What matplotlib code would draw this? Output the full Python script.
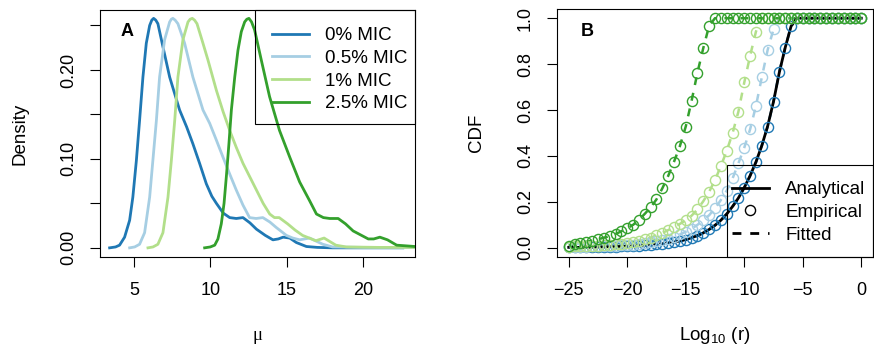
import numpy as np
import matplotlib
matplotlib.use('Agg')
import matplotlib.pyplot as plt
from matplotlib.lines import Line2D
from matplotlib.patches import Rectangle

plt.rcParams['font.family'] = ['Liberation Sans', 'DejaVu Sans']
plt.rcParams['font.size'] = 13
plt.rcParams['mathtext.default'] = 'regular'

# ---- data ----
labels = ['0% MIC', '0.5% MIC', '1% MIC', '2.5% MIC']
colors = ['#1F78B4', '#A6CEE3', '#B2DF8A', '#33A02C']

# panel A: density of mu
mu_0 = [3.41, 3.8, 4.06, 4.39, 4.72, 4.93, 5.16, 5.37, 5.59, 5.81, 6.03, 6.17, 6.29, 6.43, 6.57,
        6.9, 7.34, 7.99, 8.45, 8.86, 9.3, 9.74, 10.1, 10.4, 10.85, 11.27, 11.7, 12.14, 12.6,
        13.02, 13.6, 14.1, 14.45, 14.77, 15.2, 15.63, 16.29, 17.0, 18.0, 20.0, 22.6]
dens_0 = [0.0, 0.001, 0.003, 0.012, 0.031, 0.057, 0.098, 0.143, 0.192, 0.23, 0.25, 0.256, 0.258,
          0.256, 0.252, 0.226, 0.192, 0.155, 0.136, 0.117, 0.095, 0.072, 0.058, 0.05, 0.039,
          0.034, 0.033, 0.034, 0.028, 0.021, 0.014, 0.009, 0.01, 0.012, 0.011, 0.006, 0.0015,
          0.0005, 0.0, 0.0, 0.0]

mu_05 = [4.72, 5.05, 5.37, 5.7, 6.03, 6.24, 6.47, 6.68, 7.01, 7.34, 7.45, 7.55, 7.7, 7.88, 8.32,
         8.86, 9.52, 9.96, 10.4, 10.83, 11.27, 11.7, 12.14, 12.57, 13.0, 13.44, 13.9, 14.31, 14.98,
         15.4, 15.85, 16.5, 17.37, 18.0, 20.0, 23.4]
dens_05 = [0.0, 0.001, 0.004, 0.017, 0.057, 0.098, 0.143, 0.192, 0.234, 0.254, 0.257, 0.258,
           0.256, 0.252, 0.23, 0.192, 0.155, 0.14, 0.121, 0.102, 0.083, 0.065, 0.048, 0.034,
           0.033, 0.034, 0.029, 0.023, 0.014, 0.011, 0.009, 0.011, 0.004, 0.001, 0.0005, 0.0005]

mu_1 = [5.92, 6.25, 6.57, 6.9, 7.23, 7.45, 7.67, 7.88, 8.21, 8.54, 8.68, 8.82, 8.97, 9.13, 9.52,
        9.85, 10.4, 10.84, 11.27, 11.7, 12.14, 12.58, 13.02, 13.46, 13.89, 14.2, 14.51, 15.06,
        15.55, 16.04, 16.91, 17.45, 18.22, 18.9, 21.0, 23.4]
dens_1 = [0.0, 0.001, 0.004, 0.017, 0.057, 0.098, 0.143, 0.192, 0.234, 0.254, 0.257, 0.258,
          0.256, 0.252, 0.23, 0.211, 0.177, 0.153, 0.132, 0.113, 0.095, 0.08, 0.065, 0.05, 0.038,
          0.034, 0.034, 0.027, 0.02, 0.014, 0.008, 0.011, 0.003, 0.001, 0.0005, 0.0005]

mu_25 = [9.63, 10.0, 10.29, 10.5, 10.72, 10.9, 11.05, 11.22, 11.38, 11.6, 11.81, 12.03, 12.25,
         12.39, 12.53, 12.7, 12.9, 13.34, 13.88, 14.53, 15.2, 15.85, 16.5, 16.95, 17.4, 17.82,
         18.37, 18.85, 19.35, 20.34, 20.7, 21.1, 21.6, 22.2, 23.4]
dens_25 = [0.0, 0.001, 0.003, 0.01, 0.027, 0.05, 0.08, 0.117, 0.155, 0.192, 0.222, 0.243, 0.254,
           0.257, 0.258, 0.254, 0.245, 0.211, 0.17, 0.132, 0.102, 0.074, 0.053, 0.038, 0.034,
           0.033, 0.033, 0.027, 0.019, 0.010, 0.010, 0.012, 0.009, 0.003, 0.0015]

# panel B: CDF of log10(r), empirical points on a 0.5 grid from -25 to 0
log_r = np.arange(-25, 0.01, 0.5)
cdf_0 = [0.002, 0.002, 0.003, 0.003, 0.003, 0.004, 0.004, 0.005, 0.005, 0.006, 0.007, 0.008,
         0.009, 0.011, 0.013, 0.015, 0.018, 0.021, 0.025, 0.030, 0.036, 0.044, 0.053, 0.065,
         0.080, 0.098, 0.120, 0.148, 0.180, 0.215, 0.262, 0.314, 0.372, 0.445, 0.528, 0.637,
         0.767, 0.872, 0.965] + [1.0] * 12
cdf_05 = [0.004, 0.004, 0.005, 0.005, 0.006, 0.007, 0.008, 0.009, 0.010, 0.011, 0.012, 0.014,
          0.017, 0.020, 0.024, 0.028, 0.034, 0.040, 0.048, 0.058, 0.070, 0.083, 0.100, 0.120,
          0.142, 0.172, 0.208, 0.249, 0.302, 0.368, 0.436, 0.516, 0.618, 0.743, 0.862,
          0.952] + [1.0] * 15
cdf_1 = [0.005, 0.006, 0.007, 0.008, 0.009, 0.010, 0.011, 0.013, 0.015, 0.018, 0.022, 0.026,
         0.031, 0.037, 0.044, 0.055, 0.065, 0.077, 0.090, 0.104, 0.120, 0.140, 0.167, 0.203,
         0.244, 0.295, 0.356, 0.422, 0.499, 0.593, 0.720, 0.836, 0.942] + [1.0] * 18
cdf_25 = [0.010, 0.015, 0.020, 0.026, 0.031, 0.037, 0.044, 0.051, 0.060, 0.072, 0.085, 0.100,
          0.122, 0.148, 0.176, 0.211, 0.259, 0.313, 0.375, 0.443, 0.528, 0.640, 0.763, 0.870,
          0.967] + [1.0] * 26
analytic_0 = [0.002, 0.002, 0.002, 0.003, 0.003, 0.004, 0.004, 0.005, 0.005, 0.006, 0.007, 0.008,
              0.009, 0.011, 0.013, 0.015, 0.018, 0.021, 0.025, 0.030, 0.036, 0.044, 0.053, 0.065,
              0.080, 0.098, 0.120, 0.147, 0.180, 0.217, 0.262, 0.314, 0.374, 0.445, 0.530, 0.637,
              0.765, 0.872, 0.965] + [1.0] * 12

mus = [mu_0, mu_05, mu_1, mu_25]
dens = [dens_0, dens_05, dens_1, dens_25]
cdfs = [cdf_0, cdf_05, cdf_1, cdf_25]


def style(ax):
    for s in ax.spines.values():
        s.set_linewidth(0.8)
    ax.tick_params(direction='out', length=7.2, width=0.8, top=False, right=False)
    ax.tick_params(axis='x', pad=11)
    ax.tick_params(axis='y', pad=9.4, labelrotation=90)
    for t in ax.get_yticklabels():
        t.set_va('center')


def boxed_legend(ax, handles, names, anchor, box):
    # R-style legend: transparent, square box, tight left padding
    leg = ax.legend(handles, names, loc='upper left', bbox_to_anchor=anchor, borderaxespad=0,
                    borderpad=0, frameon=False, handlelength=1.95, handletextpad=0.88,
                    labelspacing=0.3, fontsize=13.5)
    ax.add_patch(Rectangle((box[0], box[1]), box[2], box[3], transform=ax.transAxes,
                           fill=False, ec='black', lw=0.8, clip_on=False, zorder=6))
    return leg


fig = plt.figure(figsize=(8.74, 3.52), dpi=100)
axA = fig.add_axes([100 / 874, 95 / 352, 315 / 874, 247 / 352])
axB = fig.add_axes([557 / 874, 95 / 352, 316 / 874, 248 / 352])

# ---- panel A ----
linesA = []
for x, y, c in zip(mus, dens, colors):
    linesA += axA.plot(x, y, color=c, lw=2)
axA.set_xlim(2.78, 23.4)
axA.set_ylim(-0.0103, 0.2674)
axA.set_xticks([5, 10, 15, 20])
axA.set_yticks([0, 0.05, 0.1, 0.15, 0.2, 0.25])
axA.set_yticklabels(['0.00', '', '0.10', '', '0.20', ''])
style(axA)
axA.set_ylabel('Density', va='center', fontsize=13.5)
axA.yaxis.set_label_coords(-80 / 315, 0.5)
axA.set_xlabel('μ', va='center', fontsize=13.5, family=['Liberation Serif', 'DejaVu Serif'])
axA.xaxis.set_label_coords(0.5, -78 / 247)
axA.text(0.086, 0.911, 'A', transform=axA.transAxes, fontweight='bold',
         ha='center', va='center')
boxed_legend(axA, linesA, labels, ((272 - 100) / 315, (257 - 27) / 247),
             ((255 - 100) / 315, (257 - 124) / 247, 1 - (255 - 100) / 315, 114 / 247))

# ---- panel B ----
for y, c in zip(cdfs, colors):
    axB.plot(log_r, y, color=c, lw=1.8, dashes=(3.2, 3.2), zorder=2)
axB.plot(log_r, analytic_0, color='black', lw=2, zorder=3)
for y, c in zip(cdfs, colors):
    axB.plot(log_r, y, 'o', mfc='none', mec=c, ms=7.3, mew=1, zorder=4)
axB.set_xlim(-26, 1)
axB.set_ylim(-0.04, 1.04)
axB.set_xticks([-25, -20, -15, -10, -5, 0])
axB.set_yticks([0, 0.2, 0.4, 0.6, 0.8, 1.0])
axB.set_yticklabels(['0.0', '0.2', '0.4', '0.6', '0.8', '1.0'])
style(axB)
axB.set_ylabel('CDF', va='center', fontsize=13.5)
axB.yaxis.set_label_coords(-80 / 316, 0.5)
axB.set_xlabel('Log$_{10}$ (r)', va='center', fontsize=13.5)
axB.xaxis.set_label_coords(0.5, -78 / 248)
axB.text(0.095, 0.911, 'B', transform=axB.transAxes, fontweight='bold',
         ha='center', va='center')
handles = [Line2D([], [], color='black', lw=2),
           Line2D([], [], ls='none', marker='o', mfc='none', mec='black', ms=7.3, mew=1),
           Line2D([], [], color='black', lw=2, dashes=(3.2, 3.2))]
boxed_legend(axB, handles, ['Analytical', 'Empirical', 'Fitted'],
             ((732 - 557) / 316, (257 - 181) / 248),
             ((727 - 557) / 316, 0, 1 - (727 - 557) / 316, (257 - 165) / 248))

fig.savefig('out.png', dpi=100)
